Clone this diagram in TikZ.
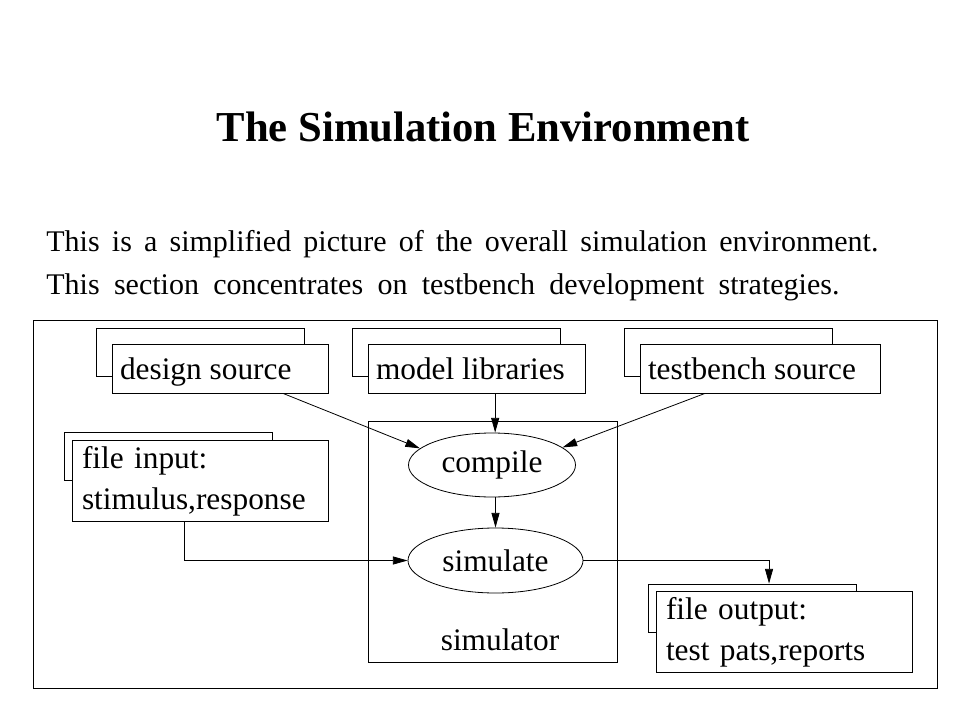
\documentclass[tikz,border=0pt]{standalone}
\usepackage{fontspec}
\setmainfont{Liberation Serif}
\usetikzlibrary{arrows.meta}
\usetikzlibrary{shapes.geometric}
\usetikzlibrary{positioning}

\begin{document}
\begin{tikzpicture}[x=0.75pt,y=-0.75pt,>={Triangle[length=11pt,width=6pt]},line width=0.6pt]
	\tikzstyle{back}=[draw, minimum width=156pt, minimum height=36pt, inner sep=0pt]
	\tikzstyle{front}=[draw, fill=white, inner xsep=6pt, inner ysep=0pt, minimum height=36.75pt, text height=20pt, text depth=3.5pt, font=\fontsize{23.5}{28.5}\selectfont]
	\tikzstyle{filebox}=[draw, fill=white, align=left, text width=177pt, inner xsep=7.5pt, inner ysep=0pt, minimum height=60pt, font=\fontsize{23.5}{30.5}\selectfont]
	\tikzstyle{oval}=[draw, ellipse, inner sep=0pt, font=\fontsize{23.5}{28.5}\selectfont]
	\tikzstyle{para}=[anchor=base west, inner sep=0pt, font=\fontsize{22.5}{26}\selectfont]
	\useasboundingbox (0,0) rectangle (960,720);

	% heading and text
	\node[font=\bfseries\fontsize{32}{36}\selectfont] (title) at (483,127) {The Simulation Environment};
	\node[para] (l1) at (46,252) {\makebox[624pt][s]{This is a simplified picture of the overall simulation environment.}};
	\node[para] (l2) at (46,295) {\makebox[594.75pt][s]{This section concentrates on testbench development strategies.}};

	\draw (33,320) rectangle (937,688);

	% sources
	\node[back] (Db) at (200.5,352) {};
	\node[front] (D) at (220,368.5) {\makebox[150pt][l]{design source}};
	\node[back] (Mb) at (456.5,352) {};
	\node[front] (M) at (476.5,368.5) {\makebox[150.75pt][l]{model libraries}};
	\node[back] (Tb) at (728,352) {};
	\node[front] (T) at (760,368.5) {\makebox[168pt][l]{testbench source}};

	% simulator
	\node[draw, minimum width=186.75pt, minimum height=180.75pt] (X) at (492.5,541.5) {};
	\node[font=\fontsize{23.5}{28.5}\selectfont] (L) at (500,640) {simulator};
	\node[oval, minimum width=125.25pt, minimum height=48pt] (C) at (492,465) {compile};
	\node[oval, minimum width=131.25pt, minimum height=48.75pt] (S) at (495.5,560.5) {simulate};

	% files
	\node[back] (Ib) at (168,456) {};
	\node[filebox] (I) at (200,481) {\strut file input:\\\strut stimulus,response};
	\node[back] (Ob) at (752.5,608) {};
	\node[filebox] (O) at (784,632) {\strut file output:\\\strut test pats,reports};

	\draw[->] ([xshift=47.25pt]D.south) -- (C.167);
	\draw[->] ([xshift=14pt]M.south) -- ([xshift=14pt]M.south |- C.north);
	\draw[->] ([xshift=-41.25pt]T.south) -- (C.14);
	\draw[->] (S.north |- C.south) -- (S.north);
	\draw[->] ([xshift=-12pt]I.south) |- (S.west);
	\draw[->] (S.east) -| ([xshift=12.4pt]Ob.north);
\end{tikzpicture}
\end{document}
